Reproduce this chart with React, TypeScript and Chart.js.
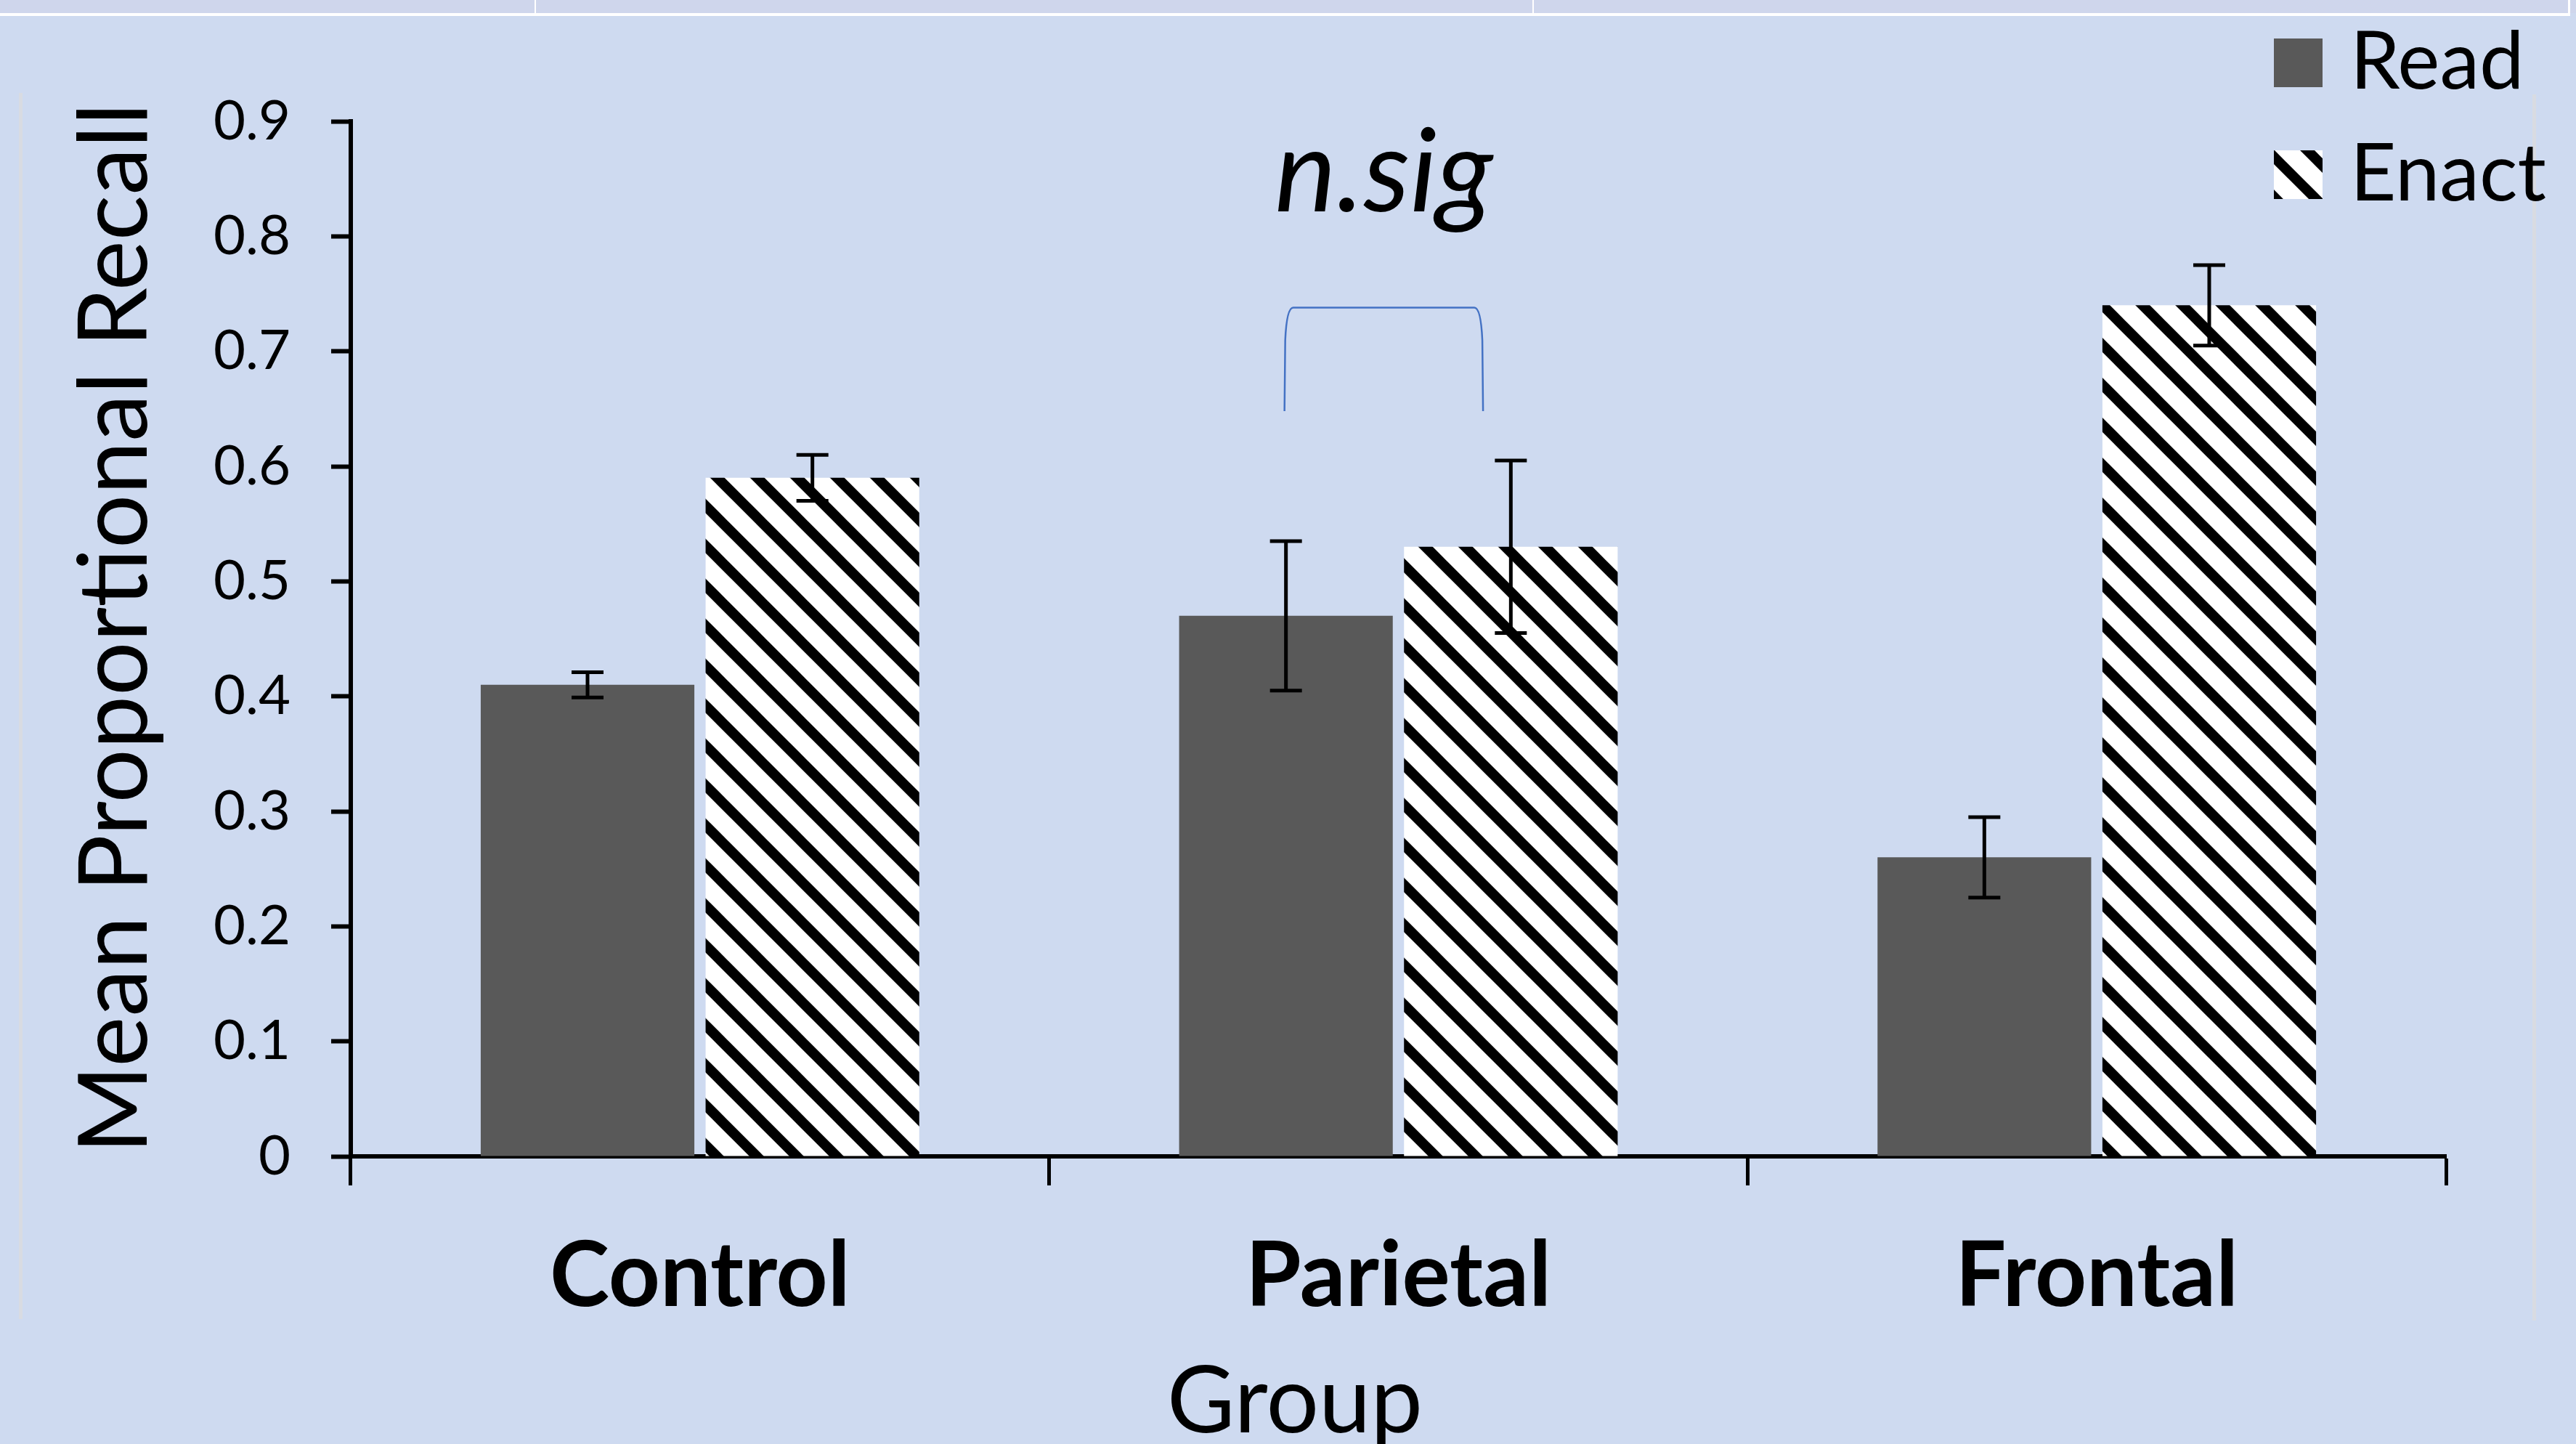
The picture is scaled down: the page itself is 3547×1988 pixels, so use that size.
import React, { useEffect, useRef } from "react";
import { Chart, registerables } from "chart.js";

Chart.register(...registerables);

// ---------- data ----------
const categories = ["Control", "Parietal", "Frontal"];
const seriesLabels = ["Read", "Enact"];
const readValues = [0.41, 0.47, 0.26];
const readErrors = [0.011, 0.065, 0.035];
const enactValues = [0.59, 0.53, 0.74];
const enactErrors = [0.02, 0.075, 0.035];
const yTickLabels = ["0", "0.1", "0.2", "0.3", "0.4", "0.5", "0.6", "0.7", "0.8", "0.9"];
const yTitle = "Mean Proportional Recall";
const xTitle = "Group";
const annotationText = "n.sig";
const bracketCategory = 1;
const bracketTop = 0.738;
const bracketBottom = 0.648;
const annotationValue = 0.822;

const FONT = "Lato";
const BG = "#CEDAF0";
const READ_COLOR = "#595959";

function makeStripePattern(): CanvasPattern | string {
  const T = 55;
  const c = document.createElement("canvas");
  c.width = T;
  c.height = T;
  const g = c.getContext("2d");
  if (!g) return "#ffffff";
  g.fillStyle = "#ffffff";
  g.fillRect(0, 0, T, T);
  g.strokeStyle = "#000000";
  g.lineWidth = 14;
  for (let k = -1; k <= 1; k++) {
    g.beginPath();
    g.moveTo(k * T - T, -T);
    g.lineTo(k * T + 2 * T, 2 * T);
    g.stroke();
  }
  const p = g.createPattern(c, "repeat");
  return p || "#ffffff";
}

const decorPlugin = {
  id: "decor",
  beforeDraw(chart: any) {
    const { ctx, width, height } = chart;
    ctx.save();
    ctx.fillStyle = BG;
    ctx.fillRect(0, 0, width, height);
    ctx.fillStyle = "#CFD6EC";
    ctx.fillRect(0, 0, width, 18);
    ctx.fillStyle = "#FFFFFF";
    ctx.fillRect(0, 18, 3539, 4);
    ctx.fillRect(736, 0, 2, 18);
    ctx.fillRect(2110, 0, 2, 18);
    ctx.fillRect(3536, 0, 3, 22);
    ctx.fillStyle = "#D8DBE2";
    ctx.fillRect(26, 128, 5, 1688);
    ctx.fillRect(3487, 130, 5, 1688);
    ctx.restore();
  },
  afterDatasetsDraw(chart: any) {
    const { ctx } = chart;
    const y = chart.scales.y;
    const errs = [readErrors, enactErrors];
    const vals = [readValues, enactValues];
    ctx.save();
    ctx.strokeStyle = "#000000";
    ctx.lineWidth = 5;
    ctx.lineCap = "butt";
    chart.data.datasets.forEach((_: any, di: number) => {
      const meta = chart.getDatasetMeta(di);
      meta.data.forEach((el: any, i: number) => {
        const v = vals[di][i];
        const e = errs[di][i];
        const yt = y.getPixelForValue(v + e);
        const yb = y.getPixelForValue(v - e);
        const x = el.x;
        const cw = 22;
        ctx.beginPath();
        ctx.moveTo(x, yt);
        ctx.lineTo(x, yb);
        ctx.moveTo(x - cw, yt);
        ctx.lineTo(x + cw, yt);
        ctx.moveTo(x - cw, yb);
        ctx.lineTo(x + cw, yb);
        ctx.stroke();
      });
    });
    ctx.restore();
  },
  afterDraw(chart: any) {
    const { ctx } = chart;
    const y = chart.scales.y;
    ctx.save();
    // legend
    const lx = 3131;
    const rows = [53, 207];
    ctx.font = `110px ${FONT}`;
    ctx.textBaseline = "alphabetic";
    ctx.textAlign = "left";
    chart.data.datasets.forEach((ds: any, i: number) => {
      ctx.fillStyle = ds.backgroundColor;
      ctx.fillRect(lx, rows[i], 67, 67);
      ctx.fillStyle = "#000000";
      ctx.fillText(ds.label, 3236, rows[i] + 69);
    });
    // bracket
    const readBar = chart.getDatasetMeta(0).data[bracketCategory];
    const enactBar = chart.getDatasetMeta(1).data[bracketCategory];
    const x1 = readBar.x - 2;
    const x2 = enactBar.x - enactBar.width * 0.13;
    const yt = y.getPixelForValue(bracketTop);
    const yb = y.getPixelForValue(bracketBottom);
    ctx.strokeStyle = "#4472C4";
    ctx.lineWidth = 2.5;
    ctx.beginPath();
    ctx.moveTo(x1, yb);
    ctx.lineTo(x1 + 1, yt + 45);
    ctx.quadraticCurveTo(x1 + 3, yt, x1 + 12, yt);
    ctx.lineTo(x2 - 12, yt);
    ctx.quadraticCurveTo(x2 - 3, yt, x2 - 1, yt + 45);
    ctx.lineTo(x2, yb);
    ctx.stroke();
    // annotation text
    ctx.fillStyle = "#000000";
    ctx.font = `italic 160px ${FONT}`;
    ctx.textAlign = "center";
    ctx.fillText(annotationText, (x1 + x2) / 2, y.getPixelForValue(annotationValue));
    // x axis title
    ctx.font = `128px ${FONT}`;
    ctx.textAlign = "center";
    ctx.textBaseline = "alphabetic";
    ctx.fillText(xTitle, 1783, 1972);
    // y axis title
    ctx.save();
    ctx.translate(202, 865);
    ctx.rotate(-Math.PI / 2);
    ctx.font = `131px ${FONT}`;
    ctx.textAlign = "center";
    ctx.textBaseline = "alphabetic";
    ctx.fillText(yTitle, 0, 0);
    ctx.restore();
    ctx.restore();
  },
};

export default function App() {
  const ref = useRef<HTMLCanvasElement | null>(null);
  useEffect(() => {
    document.body.style.margin = "0";
    const canvas = ref.current;
    if (!canvas) return;
    const pattern = makeStripePattern();
    const chart = new Chart(canvas, {
      type: "bar",
      data: {
        labels: categories,
        datasets: [
          {
            label: seriesLabels[0],
            data: readValues,
            backgroundColor: READ_COLOR,
            borderWidth: 0,
            barPercentage: 0.95,
            categoryPercentage: 0.644,
          },
          {
            label: seriesLabels[1],
            data: enactValues,
            backgroundColor: pattern as any,
            borderWidth: 0,
            barPercentage: 0.95,
            categoryPercentage: 0.644,
          },
        ],
      },
      options: {
        responsive: false,
        animation: false,
        devicePixelRatio: 1,
        layout: { padding: { top: 167, right: 179, left: 0, bottom: 0 } },
        plugins: {
          legend: { display: false },
          tooltip: { enabled: false },
        },
        scales: {
          x: {
            z: 1,
            grid: {
              offset: true,
              drawOnChartArea: false,
              drawTicks: true,
              tickLength: 40,
              tickWidth: 5,
              tickColor: "#000000",
            },
            border: { display: true, color: "#000000", width: 6 },
            ticks: {
              color: "#000000",
              padding: 52,
              font: { family: FONT, size: 124, weight: "bold", lineHeight: 1.2 },
            },
            title: { display: false },
            afterFit(scale: any) {
              scale.height = 396;
            },
          },
          y: {
            z: 1,
            min: 0,
            max: 0.9,
            grid: {
              drawOnChartArea: false,
              drawTicks: true,
              tickLength: 27,
              tickWidth: 6,
              tickColor: "#000000",
            },
            border: { display: true, color: "#000000", width: 6 },
            ticks: {
              stepSize: 0.1,
              color: "#000000",
              padding: 56,
              font: { family: FONT, size: 76 },
              callback: (_v: any, i: number) => yTickLabels[i],
            },
            title: { display: false },
            afterFit(scale: any) {
              scale.width = 483;
            },
          },
        },
      },
      plugins: [decorPlugin],
    } as any);
    return () => chart.destroy();
  }, []);
  return (
    <div style={{ position: "fixed", left: 0, top: 0, width: 3547, height: 1988 }}>
      <canvas ref={ref} width={3547} height={1988} style={{ display: "block" }} />
    </div>
  );
}
